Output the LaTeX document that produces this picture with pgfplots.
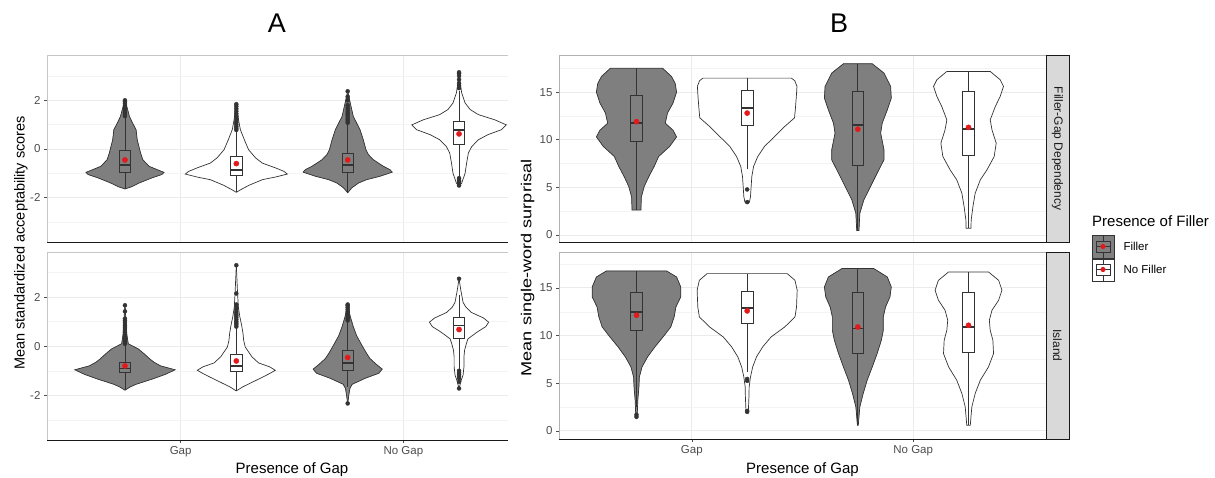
\documentclass[border=0pt]{standalone}
\usepackage{fontspec}
\setmainfont{Liberation Sans}
\usepackage{pgfplots}
\usepackage{pgfplotstable}
\pgfplotsset{compat=1.18}

\definecolor{vfill}{HTML}{7F7F7F}
\definecolor{vline}{HTML}{333333}
\definecolor{mred}{HTML}{E31A1C}
\definecolor{tickc}{HTML}{4D4D4D}
\definecolor{gridmaj}{HTML}{EBEBEB}
\definecolor{gridmin}{HTML}{F4F4F4}
\definecolor{stripc}{HTML}{D9D9D9}

% violin outlines: y and half-width w (x units)
% --- A, Filler-Gap panel
\pgfplotstableread{
y w
-1.64 0
-1.55 0.03
-1.40 0.063
-1.19 0.12
-1.05 0.165
-0.96 0.175
-0.87 0.15
-0.71 0.108
-0.44 0.08
-0.16 0.07
0.38 0.055
0.79 0.05
1.07 0.034
1.34 0.02
1.62 0.012
2.00 0
}\aTa
\pgfplotstableread{
y w
-1.78 0
-1.67 0.02
-1.49 0.057
-1.26 0.117
-1.15 0.177
-1.03 0.229
-0.92 0.214
-0.78 0.177
-0.58 0.117
-0.37 0.087
-0.03 0.055
0.38 0.036
0.80 0.018
1.20 0.01
1.84 0
}\aTb
\pgfplotstableread{
y w
-1.80 0
-1.60 0.018
-1.40 0.048
-1.26 0.085
-1.12 0.145
-0.95 0.2
-0.85 0.19
-0.71 0.16
-0.44 0.115
-0.23 0.093
-0.03 0.082
0.38 0.07
0.80 0.055
1.07 0.04
1.34 0.025
1.75 0.015
2.37 0
}\aTc
\pgfplotstableread{
y w
-1.53 0
-1.40 0.012
-1.00 0.027
-0.58 0.034
-0.16 0.042
0.10 0.057
0.38 0.087
0.59 0.13
0.79 0.19
0.99 0.212
1.20 0.16
1.41 0.087
1.62 0.05
1.89 0.027
2.30 0.012
2.70 0.005
3.15 0
}\aTd
% --- A, Island panel
\pgfplotstableread{
y w
-1.79 0
-1.65 0.025
-1.55 0.05
-1.33 0.125
-1.15 0.18
-0.96 0.225
-0.80 0.16
-0.65 0.13
-0.52 0.112
-0.30 0.085
-0.11 0.06
0.10 0.015
0.50 0.008
1.00 0.005
1.67 0
}\aBa
\pgfplotstableread{
y w
-1.82 0
-1.65 0.03
-1.45 0.075
-1.25 0.12
-1.11 0.15
-0.98 0.175
-0.84 0.15
-0.68 0.1
-0.43 0.07
-0.03 0.04
0.24 0.033
0.52 0.03
0.85 0.024
1.19 0.016
1.60 0.009
2.28 0.005
3.30 0
}\aBb
\pgfplotstableread{
y w
-2.33 0
-2.00 0.005
-1.72 0.01
-1.55 0.02
-1.30 0.08
-1.10 0.14
-0.93 0.155
-0.75 0.13
-0.50 0.1
-0.25 0.082
0.10 0.06
0.43 0.04
0.80 0.025
1.20 0.012
1.67 0
}\aBc
\pgfplotstableread{
y w
-1.72 0
-1.38 0.01
-1.18 0.018
-0.84 0.022
-0.43 0.022
-0.16 0.025
0.11 0.033
0.30 0.04
0.57 0.08
0.80 0.12
0.98 0.133
1.15 0.11
1.38 0.055
1.60 0.03
1.79 0.018
2.28 0.008
2.75 0
}\aBd
% --- B, Filler-Gap Dependency panel
\pgfplotstableread{
y w
2.63 0
2.63 0.02
4.0 0.022
5.1 0.035
6.1 0.055
7.2 0.08
8.24 0.1
9.3 0.15
10.3 0.181
11.0 0.165
11.74 0.13
12.8 0.14
13.85 0.165
15.0 0.181
15.9 0.175
16.65 0.158
17.5 0.118
17.5 0
}\bTa
\pgfplotstableread{
y w
3.43 0
3.43 0.01
4.03 0.015
5.08 0.018
6.13 0.021
7.2 0.029
8.24 0.048
9.29 0.078
10.34 0.124
11.4 0.17
12.3 0.214
13.3 0.218
14.5 0.222
15.6 0.225
16.2 0.215
16.47 0.2
16.47 0
}\bTb
\pgfplotstableread{
y w
0.46 0
0.46 0.005
2.28 0.009
3.68 0.027
5.08 0.057
6.48 0.087
7.89 0.118
8.94 0.118
10.69 0.103
11.74 0.11
13.14 0.133
14.37 0.151
15.6 0.148
17.0 0.118
17.98 0.065
17.98 0
}\bTc
\pgfplotstableread{
y w
0.7 0
0.7 0.011
1.58 0.012
2.98 0.02
4.38 0.03
5.78 0.053
6.83 0.083
8.24 0.116
9.64 0.125
11.04 0.106
12.09 0.098
13.49 0.121
14.55 0.143
15.6 0.158
16.3 0.143
17.17 0.098
17.17 0
}\bTd
% --- B, Island panel
\pgfplotstableread{
y w
1.47 0
1.47 0.003
3.22 0.006
4.62 0.011
5.66 0.013
6.71 0.025
7.76 0.05
8.81 0.083
9.86 0.12
10.91 0.155
11.96 0.17
13.0 0.178
14.06 0.2
15.1 0.2
16.15 0.181
16.78 0.136
16.78 0
}\bBa
\pgfplotstableread{
y w
1.89 0
1.89 0.005
3.57 0.008
4.62 0.009
5.66 0.015
6.71 0.025
7.76 0.042
8.81 0.07
9.86 0.108
10.91 0.17
11.96 0.216
13.0 0.223
14.76 0.226
15.8 0.216
16.5 0.181
16.5 0
}\bBb
\pgfplotstableread{
y w
0.6 0
0.6 0.002
1.47 0.005
2.52 0.009
3.92 0.024
5.31 0.042
6.71 0.065
8.11 0.087
9.51 0.106
10.56 0.115
11.96 0.115
13.0 0.125
14.06 0.145
15.1 0.151
16.15 0.133
17.03 0.072
17.03 0
}\bBc
\pgfplotstableread{
y w
0.6 0
0.6 0.008
1.47 0.011
2.52 0.015
3.92 0.03
5.31 0.053
6.71 0.09
8.11 0.113
9.51 0.11
10.56 0.098
11.61 0.094
12.66 0.106
13.71 0.136
14.76 0.151
15.8 0.136
16.68 0.09
16.68 0
}\bBd

\tikzset{vl/.style={draw=vline, line width=0.7pt}}

% violin: table, centre, fill colour
\newcommand{\violin}[3]{%
  \addplot[fill=#3, draw=#3, line width=0.3pt] table[x expr={#2+\thisrow{w}}, y=y] {#1} -- cycle;
  \addplot[fill=#3, draw=#3, line width=0.3pt] table[x expr={#2-\thisrow{w}}, y=y] {#1} -- cycle;
  \addplot[vl] table[x expr={#2+\thisrow{w}}, y=y] {#1};
  \addplot[vl] table[x expr={#2-\thisrow{w}}, y=y] {#1};
}
% box: centre, lower whisker, q1, median, q3, upper whisker, mean, fill
\newcommand{\bx}[8]{%
  \pgfmathsetmacro\bl{#1-0.026}\pgfmathsetmacro\br{#1+0.026}%
  \addplot[vl] coordinates {(#1,#2) (#1,#6)};
  \addplot[vl, fill=#8] coordinates {(\bl,#3) (\br,#3) (\br,#5) (\bl,#5)} -- cycle;
  \addplot[draw=vline, line width=1.7pt] coordinates {(\bl,#4) (\br,#4)};
  \addplot[only marks, mark=*, mark size=2.6pt, color=mred] coordinates {(#1,#7)};
}

\pgfplotsset{
  gg/.style={
    scale only axis,
    xmin=0.4, xmax=2.6, xtick={1,2},
    axis line style={draw=gray!45},
    tick pos=left, tick align=outside,
    major tick length=3pt, minor tick length=0pt,
    tick style={color=gray!60!black, line width=0.5pt},
    xmajorgrids, ymajorgrids, yminorgrids,
    major grid style={draw=gridmaj, line width=0.9pt},
    minor grid style={draw=gridmin, line width=0.5pt},
    tick label style={font=\fontsize{11.5}{12}\selectfont, text=tickc},
    after end axis/.code={\draw[gray!20!black, line width=0.7pt] (rel axis cs:0,0) -- (rel axis cs:1,0);},
  },
  ggA/.style={gg, width=490pt, ymin=-3.82, ymax=3.86, ytick={-2,0,2}, yticklabels={-2,0,2}, minor ytick={-3,-1,1,3}},
  ggB/.style={gg, width=487pt, axis line style={draw=gray!60}, ytick={0,5,10,15}, yticklabels={0,5,10,15}, minor ytick={2.5,7.5,12.5,17.5}},
  outl/.style={only marks, mark=*, mark size=2pt, color=vline},
}

\begin{document}
\begin{tikzpicture}[x=1pt,y=1pt]
\useasboundingbox (0,0) rectangle (1215,477);

% ---------------- panel A ----------------
\begin{axis}[ggA, at={(47pt,235pt)}, anchor=south west, height=187pt,
  xticklabels={}, xtick style={draw=none}]
\violin{\aTa}{0.75}{vfill}
\violin{\aTb}{1.25}{white}
\violin{\aTc}{1.75}{vfill}
\violin{\aTd}{2.25}{white}
\addplot[outl] coordinates {(0.75,1.35) (0.75,1.42) (0.75,1.5) (0.75,1.58) (0.75,1.65) (0.75,1.72) (0.75,1.8) (0.75,1.88) (0.75,1.95) (0.75,2.0)};
\addplot[outl] coordinates {(1.25,0.78) (1.25,0.85) (1.25,0.92) (1.25,1.0) (1.25,1.08) (1.25,1.15) (1.25,1.25) (1.25,1.35) (1.25,1.45) (1.25,1.55) (1.25,1.65) (1.25,1.75) (1.25,1.84)};
\addplot[outl] coordinates {(1.75,1.08) (1.75,1.15) (1.75,1.22) (1.75,1.3) (1.75,1.38) (1.75,1.45) (1.75,1.52) (1.75,1.6) (1.75,1.7) (1.75,1.8) (1.75,2.0) (1.75,2.15) (1.75,2.37)};
\addplot[outl] coordinates {(2.25,2.5) (2.25,2.6) (2.25,2.7) (2.25,2.85) (2.25,3.0) (2.25,3.1) (2.25,3.15) (2.25,-1.2) (2.25,-1.28) (2.25,-1.35) (2.25,-1.42) (2.25,-1.5)};
\bx{0.75}{-1.64}{-0.97}{-0.65}{-0.07}{1.3}{-0.45}{vfill}
\bx{1.25}{-1.78}{-1.08}{-0.85}{-0.3}{0.75}{-0.6}{white}
\bx{1.75}{-1.8}{-0.96}{-0.67}{-0.16}{1.05}{-0.45}{vfill}
\bx{2.25}{-1.15}{0.2}{0.79}{1.14}{2.4}{0.62}{white}
\end{axis}

\begin{axis}[ggA, at={(47pt,37pt)}, anchor=south west, height=188pt,
  ymax=3.84, xticklabels={Gap,No Gap}]
\violin{\aBa}{0.75}{vfill}
\violin{\aBb}{1.25}{white}
\violin{\aBc}{1.75}{vfill}
\violin{\aBd}{2.25}{white}
\addplot[outl] coordinates {(0.75,0.1) (0.75,0.18) (0.75,0.25) (0.75,0.32) (0.75,0.4) (0.75,0.48) (0.75,0.55) (0.75,0.62) (0.75,0.7) (0.75,0.78) (0.75,0.85) (0.75,0.95) (0.75,1.05) (0.75,1.12) (0.75,1.42) (0.75,1.67)};
\addplot[outl] coordinates {(1.25,0.8) (1.25,0.88) (1.25,0.95) (1.25,1.02) (1.25,1.1) (1.25,1.18) (1.25,1.25) (1.25,1.32) (1.25,1.4) (1.25,1.5) (1.25,1.6) (1.25,1.7) (1.25,2.15) (1.25,3.3)};
\addplot[outl] coordinates {(1.75,1.05) (1.75,1.12) (1.75,1.2) (1.75,1.28) (1.75,1.35) (1.75,1.42) (1.75,1.5) (1.75,1.58) (1.75,1.65) (1.75,1.7) (1.75,-2.33)};
\addplot[outl] coordinates {(2.25,2.75) (2.25,-1.0) (2.25,-1.08) (2.25,-1.15) (2.25,-1.22) (2.25,-1.3) (2.25,-1.45) (2.25,-1.72)};
\bx{0.75}{-1.79}{-1.07}{-0.91}{-0.64}{0.05}{-0.8}{vfill}
\bx{1.25}{-1.82}{-1.04}{-0.81}{-0.34}{0.75}{-0.6}{white}
\bx{1.75}{-1.65}{-0.98}{-0.68}{-0.16}{1.0}{-0.46}{vfill}
\bx{2.25}{-0.95}{0.31}{0.85}{1.17}{2.1}{0.68}{white}
\end{axis}

% panel A is cut off where panel B begins
\fill[white] (508,0) rectangle (557,477);

\node[font=\fontsize{27}{30}\selectfont] at (277,454) {A};
\node[font=\fontsize{14.5}{16}\selectfont, rotate=90] at (21,234) {Mean standardized acceptability scores};
\node[font=\fontsize{15}{16}\selectfont, anchor=base] at (292,3.7) {Presence of Gap};

% ---------------- panel B ----------------
\begin{axis}[ggB, at={(559pt,235pt)}, anchor=south west, height=187pt,
  ymin=-0.74, ymax=18.9, xticklabels={}, xtick style={draw=none}]
\violin{\bTa}{0.75}{vfill}
\violin{\bTb}{1.25}{white}
\violin{\bTc}{1.75}{vfill}
\violin{\bTd}{2.25}{white}
\addplot[outl] coordinates {(1.25,4.78) (1.25,3.45)};
\bx{0.75}{2.63}{9.88}{11.74}{14.7}{17.5}{11.9}{vfill}
\bx{1.25}{6.9}{11.46}{13.32}{15.18}{16.47}{12.8}{white}
\bx{1.75}{0.46}{7.26}{11.57}{15.07}{17.98}{11.11}{vfill}
\bx{2.25}{0.7}{8.41}{11.11}{15.07}{17.17}{11.3}{white}
\end{axis}

\begin{axis}[ggB, at={(559pt,38pt)}, anchor=south west, height=187pt,
  ymin=-0.85, ymax=18.77, xticklabels={Gap,No Gap}]
\violin{\bBa}{0.75}{vfill}
\violin{\bBb}{1.25}{white}
\violin{\bBc}{1.75}{vfill}
\violin{\bBd}{2.25}{white}
\addplot[outl] coordinates {(0.75,1.47) (0.75,1.7)};
\addplot[outl] coordinates {(1.25,5.45) (1.25,5.25) (1.25,2.0) (1.25,2.1)};
\bx{0.75}{2.5}{10.56}{12.48}{14.58}{16.78}{12.13}{vfill}
\bx{1.25}{6.2}{11.26}{12.9}{14.68}{16.5}{12.59}{white}
\bx{1.75}{0.6}{8.18}{10.73}{14.58}{17.03}{10.9}{vfill}
\bx{2.25}{0.6}{8.22}{10.9}{14.51}{16.68}{11.08}{white}
\end{axis}

% facet strips
\draw[fill=stripc, draw=gray!20!black, line width=0.6pt] (1046,235) rectangle (1069,422);
\draw[fill=stripc, draw=gray!20!black, line width=0.6pt] (1046,38) rectangle (1069,225);
\node[rotate=-90, font=\fontsize{12}{13}\selectfont, text=black!90] at (1057.5,328.5) {Filler-Gap Dependency};
\node[rotate=-90, font=\fontsize{12}{13}\selectfont, text=black!90] at (1057.5,131.5) {Island};

\node[font=\fontsize{27}{30}\selectfont] at (839,454) {B};
\node[font=\fontsize{14.5}{16}\selectfont, rotate=90] at (527.5,209) {\scalebox{1.25}[1]{Mean single-word surprisal}};
\node[font=\fontsize{15}{16}\selectfont, anchor=base] at (802.5,3.7) {Presence of Gap};

% legend
\node[font=\fontsize{15}{16}\selectfont, anchor=base west, inner sep=0pt] at (1092,250) {Presence of Filler};
\fill[vfill] (1092,219) rectangle (1114,242);
\draw[vline, line width=0.6pt] (1092,219) rectangle (1114,242);
\draw[vline, line width=0.6pt] (1103,219) -- (1103,242);
\draw[vline, line width=0.6pt, fill=vfill] (1096,225) rectangle (1110,236);
\draw[vline, line width=1.2pt] (1096,230.5) -- (1110,230.5);
\fill[mred] (1103,230.5) circle (2.6);
\draw[vline, line width=0.6pt] (1092,196) rectangle (1114,218);
\draw[vline, line width=0.6pt] (1103,196) -- (1103,218);
\draw[vline, line width=0.6pt, fill=white] (1096,202) rectangle (1110,213);
\draw[vline, line width=1.2pt] (1096,207.5) -- (1110,207.5);
\fill[mred] (1103,207.5) circle (2.6);
\node[font=\fontsize{11.5}{12}\selectfont, anchor=west] at (1120,230.5) {Filler};
\node[font=\fontsize{11.5}{12}\selectfont, anchor=west] at (1120,207.5) {No Filler};
\end{tikzpicture}
\end{document}
